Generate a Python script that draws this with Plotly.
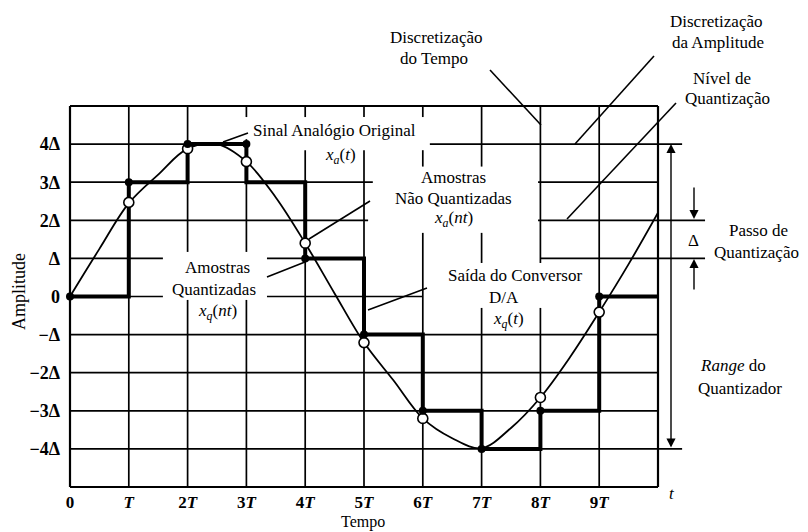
import plotly.graph_objects as go

FONT = "Liberation Serif"

# ---------------- data ----------------
tempo_sinal = [0, 0.5, 1, 1.5, 2, 2.5, 3, 3.5, 4, 4.5, 5, 5.5, 6, 6.5, 7, 7.5, 8, 8.5, 9, 9.5, 10]
sinal_analogico = [0, 1.25, 2.45, 3.2, 3.88, 4.0, 3.54, 2.6, 1.4, 0.08, -1.21, -2.2, -3.2,
                   -3.72, -3.98, -3.45, -2.65, -1.6, -0.41, 0.85, 2.2]

tempo_amostras_nq = [1, 2, 3, 4, 5, 6, 8, 9]
amostras_nao_quantizadas = [2.47, 3.88, 3.54, 1.40, -1.21, -3.2, -2.65, -0.41]

tempo_amostras_q = [0, 1, 2, 3, 4, 5, 6, 7, 8, 9]
amostras_quantizadas = [0, 3, 4, 4, 1, -1, -3, -4, -3, 0]

tempo_degraus = [0, 1, 2, 3, 4, 5, 6, 7, 8, 9, 10]
saida_conversor = [0, 3, 4, 3, 1, -1, -3, -4, -3, 0, 0]

x_tick_vals = [0, 1, 2, 3, 4, 5, 6, 7, 8, 9]
x_tick_labels = ["0", "<i>T</i>", "2<i>T</i>", "3<i>T</i>", "4<i>T</i>", "5<i>T</i>",
                 "6<i>T</i>", "7<i>T</i>", "8<i>T</i>", "9<i>T</i>"]
y_tick_vals = [4, 3, 2, 1, 0, -1, -2, -3, -4]
y_tick_labels = ["4Δ", "3Δ", "2Δ", "Δ", "0", "−Δ", "−2Δ", "−3Δ", "−4Δ"]

# ---------------- geometry ----------------
W, H = 808, 532
ML, MR, MT, MB = 70, 150, 106, 45
X_RANGE = [0, 10]
Y_RANGE = [-5, 5]
PW, PH = W - ML - MR, H - MT - MB


def fx(x):
    return (x - X_RANGE[0]) / (X_RANGE[1] - X_RANGE[0])


def fy(y):
    return (y - Y_RANGE[0]) / (Y_RANGE[1] - Y_RANGE[0])


def ppx(px):
    return (px - ML) / PW


def ppy(py):
    return (H - MB - py) / PH


# grid segments (time units / delta units), with gaps left for the labels
horiz = {
    5: [(0, 10)],
    4: [(0, 3.05), (6.12, 10.41)],
    3: [(0, 5.15), (7.96, 10)],
    2: [(0, 5.07), (7.96, 10.8)],
    1: [(0, 1.58), (3.35, 5.03), (8, 10.8)],
    0: [(0, 1.58), (3.35, 6.0), (8.96, 10)],
    -1: [(0, 10)],
    -2: [(0, 10)],
    -3: [(0, 10)],
    -4: [(0, 10.41)],
    -5: [(0, 10)],
}
vert = {
    0: [(-5, 5)],
    1: [(-5, 5)],
    2: [(-5, -0.09), (1.17, 5)],
    3: [(-5, -0.09), (1.17, 4.13), (4.71, 5)],
    4: [(-5, 3.84), (4.71, 5)],
    5: [(-5, 3.84), (4.71, 5)],
    6: [(-5, 1.67), (3.41, 3.84), (4.71, 5)],
    7: [(-5, -0.3), (0.88, 1.67), (3.41, 5)],
    8: [(-5, -0.3), (0.88, 5)],
    9: [(-5, 5)],
    10: [(-5, 5)],
}

shapes = []
for yv, segs in horiz.items():
    w = 2.2 if yv in (5, -5) else 1.7
    for a, b in segs:
        shapes.append(dict(type="line", xref="paper", yref="paper", layer="below",
                           x0=fx(a), x1=fx(b), y0=fy(yv), y1=fy(yv),
                           line=dict(color="black", width=w)))
for xv, segs in vert.items():
    w = 2.2 if xv in (0, 10) else 1.7
    for a, b in segs:
        shapes.append(dict(type="line", xref="paper", yref="paper", layer="below",
                           x0=fx(xv), x1=fx(xv), y0=fy(a), y1=fy(b),
                           line=dict(color="black", width=w)))

# leader lines (pixel positions)
leaders = [
    ((223, 142), (248, 133)),
    ((490, 70), (541, 125)),
    ((654, 56), (575, 144)),
    ((676, 103), (567, 219)),
    ((370, 201), (309, 239)),
    ((267, 277), (305, 262)),
    ((427, 288), (368, 310)),
]
for (x0, y0), (x1, y1) in leaders:
    shapes.append(dict(type="line", xref="paper", yref="paper", layer="above",
                       x0=ppx(x0), y0=ppy(y0), x1=ppx(x1), y1=ppy(y1),
                       line=dict(color="black", width=1.6)))

fig = go.Figure()
fig.add_trace(go.Scatter(x=tempo_sinal, y=sinal_analogico, mode="lines",
                         line=dict(color="black", width=1.8, shape="spline", smoothing=1.0),
                         hoverinfo="skip"))
fig.add_trace(go.Scatter(x=tempo_degraus, y=saida_conversor, mode="lines",
                         line=dict(color="black", width=4, shape="hv"), hoverinfo="skip"))
fig.add_trace(go.Scatter(x=tempo_amostras_nq, y=amostras_nao_quantizadas, mode="markers",
                         marker=dict(symbol="circle", size=10, color="white",
                                     line=dict(color="black", width=1.6)),
                         cliponaxis=False, hoverinfo="skip"))
fig.add_trace(go.Scatter(x=tempo_amostras_q, y=amostras_quantizadas, mode="markers",
                         marker=dict(symbol="circle", size=8, color="black"),
                         cliponaxis=False, hoverinfo="skip"))

tf = dict(family=FONT, size=17, color="black")
labels = [
    ("Sinal Analógio Original", 334, 131),
    ("<i>x</i><sub><i>a</i></sub>(<i>t</i>)", 340, 156),
    ("Discretização", 436, 37),
    ("do Tempo", 434, 58),
    ("Discretização", 716, 21),
    ("da Amplitude", 718, 42),
    ("Nível de", 722, 78),
    ("Quantização", 727, 99),
    ("Passo de", 758, 230),
    ("Quantização", 756, 252),
    ("Δ", 693, 240),
    ("<i>Range</i> do", 733, 365),
    ("Quantizador", 740, 388),
    ("Amostras", 454, 177),
    ("Não Quantizadas", 454, 198),
    ("<i>x</i><sub><i>a</i></sub>(<i>nt</i>)", 454, 219),
    ("Amostras", 217, 267),
    ("Quantizadas", 214, 289),
    ("<i>x</i><sub><i>q</i></sub>(<i>nt</i>)", 217, 312),
    ("Saída do Conversor", 515, 275),
    ("D/A", 504, 297),
    ("<i>x</i><sub><i>q</i></sub>(<i>t</i>)", 508, 320),
    ("<i>t</i>", 672, 493),
]
annotations = []
for txt, x, y in labels:
    annotations.append(dict(text=txt, xref="paper", yref="paper", x=ppx(x), y=ppy(y),
                            xanchor="center", yanchor="middle", showarrow=False, font=tf))
annotations.append(dict(text="Tempo", xref="paper", yref="paper", x=ppx(363), y=ppy(522),
                        xanchor="center", yanchor="middle", showarrow=False,
                        font=dict(family=FONT, size=16, color="black")))
annotations.append(dict(text="Amplitude", xref="paper", yref="paper", x=ppx(19), y=ppy(292),
                        xanchor="center", yanchor="middle", showarrow=False, textangle=-90,
                        font=dict(family=FONT, size=18, color="black")))

# arrows
arrows = [
    (671, 144, 0, 305, "end+start"),
    (694, 219, 0, -33, "end"),
    (694, 259, 0, 32, "end"),
]
for x, y, ax, ay, side in arrows:
    annotations.append(dict(text="", xref="paper", yref="paper", x=ppx(x), y=ppy(y),
                            ax=ax, ay=ay, showarrow=True, arrowhead=2, arrowsize=1.3,
                            arrowwidth=1.4, arrowcolor="black", arrowside=side, standoff=0,
                            startstandoff=0))

fig.update_layout(
    width=W, height=H,
    margin=dict(l=ML, r=MR, t=MT, b=MB, pad=0),
    paper_bgcolor="white", plot_bgcolor="rgba(0,0,0,0)",
    showlegend=False,
    shapes=shapes,
    annotations=annotations,
    xaxis=dict(range=X_RANGE, showgrid=False, zeroline=False, showline=False, ticks="",
               tickvals=x_tick_vals, ticktext=x_tick_labels, ticklabelstandoff=3,
               tickfont=dict(family=FONT, size=17, color="black", weight="bold"),
               fixedrange=True),
    yaxis=dict(range=Y_RANGE, showgrid=False, zeroline=False, showline=False, ticks="",
               tickvals=y_tick_vals, ticktext=y_tick_labels, ticklabelstandoff=9,
               tickfont=dict(family=FONT, size=18, color="black", weight="bold"),
               fixedrange=True),
)

fig.write_html("out.html")
